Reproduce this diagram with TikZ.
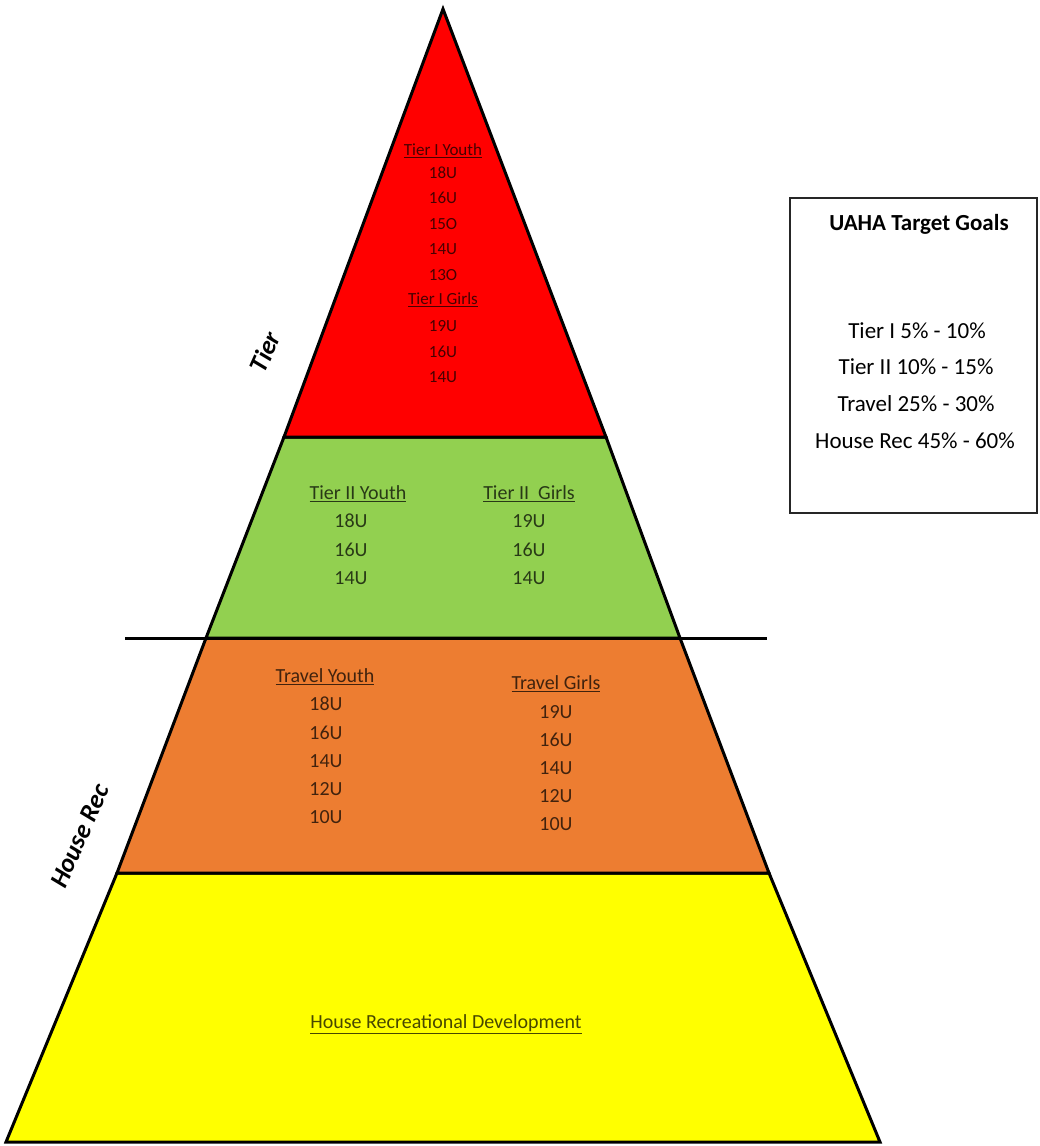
\documentclass[tikz,border=0pt]{standalone}
\usepackage{fontspec}
\setmainfont{Carlito}
\begin{document}
\begin{tikzpicture}[x=1pt,y=-1pt,
  tier/.style={draw=black,line width=3pt,line join=miter},
  lbl/.style={font=\fontsize{17}{19}\selectfont,text=black,text opacity=0.72,inner sep=0pt,anchor=center},
  lblb/.style={font=\fontsize{20}{23}\selectfont,text=black,text opacity=0.72,inner sep=0pt,anchor=center},
  goal/.style={font=\fontsize{23}{26}\selectfont,inner sep=0pt,anchor=center},
  side/.style={font=\fontsize{26}{30}\selectfont\bfseries\itshape,inner sep=0pt,anchor=center,rotate=66}]
\useasboundingbox (0,0) rectangle (1039,1146);
\definecolor{tred}{RGB}{255,0,0}
\definecolor{tgreen}{RGB}{146,208,80}
\definecolor{torange}{RGB}{237,125,49}
\definecolor{tyellow}{RGB}{255,255,0}
% pyramid layers
\coordinate (apex) at (443,9);
\coordinate (rl) at (284,437);
\coordinate (rr) at (606,437);
\coordinate (gl) at (206,638);
\coordinate (gr) at (680,638);
\coordinate (ol) at (117,873);
\coordinate (or) at (769,873);
\coordinate (yl) at (6,1142);
\coordinate (yr) at (880,1142);
\filldraw[tier,fill=tyellow] (ol) -- (or) -- (yr) -- (yl) -- cycle;
\filldraw[tier,fill=torange] (gl) -- (gr) -- (or) -- (ol) -- cycle;
\filldraw[tier,fill=tgreen] (rl) -- (rr) -- (gr) -- (gl) -- cycle;
\filldraw[tier,fill=tred] (apex) -- (rr) -- (rl) -- cycle;
% divider line
\coordinate (hl) at (125,638);
\coordinate (hr) at (767,638);
\draw[line width=3pt] (hl) -- (hr);
% red section
\node[lbl] (r1) at (443,151) {\underline{Tier I Youth}};
\node[lbl] (r2) at (443,173) {18U};
\node[lbl] (r3) at (443,198) {16U};
\node[lbl] (r4) at (443,224) {15O};
\node[lbl] (r5) at (443,249) {14U};
\node[lbl] (r6) at (443,275) {13O};
\node[lbl] (r7) at (443,300) {\underline{Tier I Girls}};
\node[lbl] (r8) at (443,326) {19U};
\node[lbl] (r9) at (443,352) {16U};
\node[lbl] (r10) at (443,377) {14U};
% green section
\node[lblb] (g1) at (358,494) {\underline{Tier II Youth}};
\node[lblb] (g2) at (351,521) {18U};
\node[lblb] (g3) at (351,550) {16U};
\node[lblb] (g4) at (351,578) {14U};
\node[lblb] (g5) at (529,494) {\underline{Tier II\ \ Girls}};
\node[lblb] (g6) at (529,521) {19U};
\node[lblb] (g7) at (529,550) {16U};
\node[lblb] (g8) at (529,578) {14U};
% orange section
\node[lblb] (o1) at (325,677) {\underline{Travel Youth}};
\node[lblb] (o2) at (326,704) {18U};
\node[lblb] (o3) at (326,733) {16U};
\node[lblb] (o4) at (326,761) {14U};
\node[lblb] (o5) at (326,789) {12U};
\node[lblb] (o6) at (326,817) {10U};
\node[lblb] (o7) at (556,684) {\underline{Travel Girls}};
\node[lblb] (o8) at (556,712) {19U};
\node[lblb] (o9) at (556,740) {16U};
\node[lblb] (o10) at (556,768) {14U};
\node[lblb] (o11) at (556,796) {12U};
\node[lblb] (o12) at (556,824) {10U};
% yellow section
\node[lblb] (y1) at (446,1024) {\underline{House Recreational Development}};
% side labels
\node[side] (s1) at (265,352) {Tier};
\node[side] (s2) at (80,836) {House Rec};
% goals box
\draw[line width=1.3pt,draw=black!85] (790,198) rectangle (1037,513);
\node[goal,font=\fontsize{23}{26}\selectfont\bfseries] (b0) at (919,224) {UAHA Target Goals};
\node[goal] (b1) at (917,331) {Tier I 5\% - 10\%};
\node[goal] (b2) at (916,367) {Tier II 10\% - 15\%};
\node[goal] (b3) at (916,404) {Travel 25\% - 30\%};
\node[goal] (b4) at (915,441) {House Rec 45\% - 60\%};
\end{tikzpicture}
\end{document}
